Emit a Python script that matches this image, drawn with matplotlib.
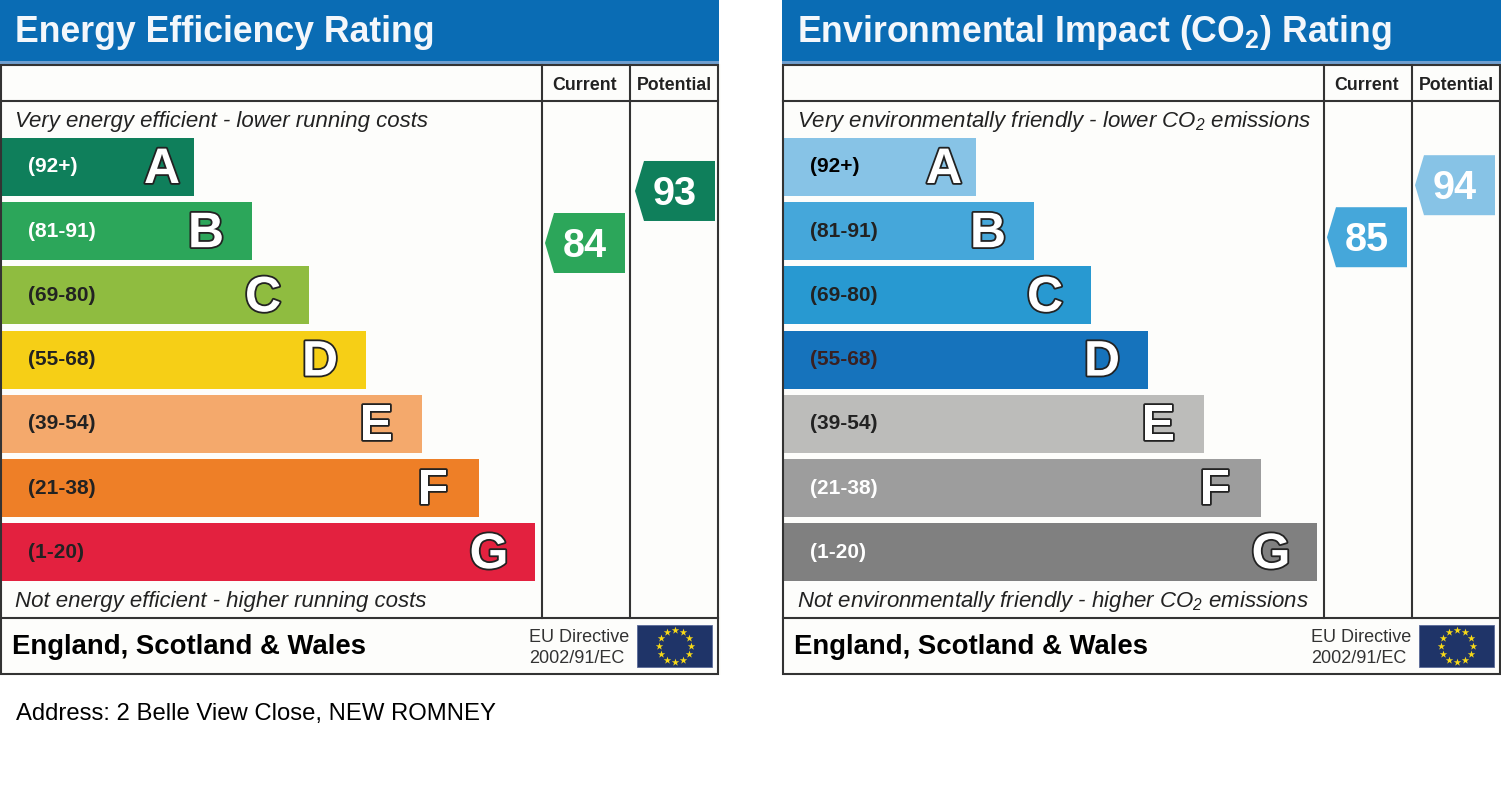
import numpy as np
import matplotlib
matplotlib.use('Agg')
import matplotlib.pyplot as plt
import matplotlib.patheffects as pe
from matplotlib.patches import Rectangle, Polygon

plt.rcParams['font.family'] = ['Liberation Sans', 'DejaVu Sans']
plt.rcParams['mathtext.default'] = 'regular'

# data
bands = ['A', 'B', 'C', 'D', 'E', 'F', 'G']
ranges = ['(92+)', '(81-91)', '(69-80)', '(55-68)', '(39-54)', '(21-38)', '(1-20)']
band_lengths = [192, 250, 307, 364, 420, 477, 533]
energy_current = 84
energy_potential = 93
co2_current = 85
co2_potential = 94
address = 'Address: 2 Belle View Close, NEW ROMNEY'

# styles
energy_colors = ['#0f7f5b', '#2ca65a', '#8fbc40', '#f6cf16', '#f4a96c', '#ee7f27', '#e3213f']
co2_colors = ['#87c3e6', '#45a7da', '#2899d1', '#1673bc', '#bcbcba', '#9d9d9d', '#808080']
energy_range_colors = ['white', 'white', '#222222', '#222222', '#222222', '#222222', '#222222']
co2_range_colors = ['black', '#222222', '#222222', '#3a2020', '#222222', 'white', 'white']
LINE = '#333333'
BLUE = '#0a6cb4'
PAPER = '#fdfdfb'


def tag_y(value):
    return 243 - (value - 84) * 5.78


def draw_tag(ax, x_right, value, color):
    y = tag_y(value)
    pts = [(x_right, y - 30), (x_right, y + 30), (x_right - 71, y + 30),
           (x_right - 80, y), (x_right - 71, y - 30)]
    ax.add_patch(Polygon(pts, closed=True, fc=color, ec='none', zorder=3))
    ax.text(x_right - 40, y + 3, str(value), color='white', fontsize=28.5, fontweight='bold',
            ha='center', va='center', zorder=4)


def draw_flag(ax, x0):
    ax.add_patch(Rectangle((x0 + 637, 625), 75, 42, fc='#1f3468', ec='#5a6a98', lw=0.6, zorder=2))
    cx, cy = x0 + 675, 646
    ang = np.arange(12) * np.pi / 6
    ax.scatter(cx + 16 * np.cos(ang), cy + 16 * np.sin(ang), marker='*', s=32, color='#f7d917',
               linewidths=0, zorder=3)


def draw_panel(ax, x0, title, top_text, bottom_text, colors, range_colors, current, potential_right, potential):
    ax.add_patch(Rectangle((x0, 0), 719, 61, fc=BLUE, ec='none'))
    ax.add_patch(Rectangle((x0, 61), 719, 3, fc='#6f9fd0', ec='none'))
    ax.add_patch(Rectangle((x0, 64), 721, 611, fc=PAPER, ec='none'))
    ax.text(x0 + 15, 33, title, color='#f4f7fb', fontsize=25.7, fontweight='bold', va='center')

    # table frame
    ax.add_patch(Rectangle((x0 + 1, 65), 717, 609, fc='none', ec=LINE, lw=1.5, zorder=5))
    ax.plot([x0 + 1, x0 + 718], [101, 101], color=LINE, lw=1.5, zorder=5)
    ax.plot([x0 + 1, x0 + 718], [618, 618], color=LINE, lw=1.5, zorder=5)
    ax.plot([x0 + 542, x0 + 542], [65, 618], color=LINE, lw=1.5, zorder=5)
    ax.plot([x0 + 630, x0 + 630], [65, 618], color=LINE, lw=1.5, zorder=5)
    ax.text(x0 + 585, 86, 'Current', color='#222222', fontsize=12.8, fontweight='bold', ha='center', va='center')
    ax.text(x0 + 674.5, 86, 'Potential', color='#222222', fontsize=12.8, fontweight='bold', ha='center', va='center')

    ax.text(x0 + 15, 121, top_text, color='#222222', fontsize=16, style='italic', va='center')
    ax.text(x0 + 15, 601, bottom_text, color='#222222', fontsize=16, style='italic', va='center')

    ys = 167 + np.arange(7) * 64.2
    ax.barh(ys, band_lengths, left=x0 + 2, height=58, color=colors, zorder=2)
    for i, (y, length) in enumerate(zip(ys, band_lengths)):
        ax.text(x0 + 28, y, ranges[i], color=range_colors[i], fontsize=15, fontweight='bold',
                va='center', zorder=3)
        inset = 32 if bands[i] == 'A' else 46
        ax.text(x0 + 2 + length - inset, y + 3, bands[i], color='white', fontsize=36, fontweight='bold',
                ha='center', va='center', zorder=4,
                path_effects=[pe.withStroke(linewidth=2.6, foreground='#222222')])

    draw_tag(ax, x0 + 625, current, colors[1])
    draw_tag(ax, x0 + potential_right, potential, colors[0])

    ax.text(x0 + 12, 647, 'England, Scotland & Wales', color='black', fontsize=19.8, fontweight='bold', va='center')
    ax.text(x0 + 529, 637, 'EU Directive', color='#333333', fontsize=13, va='center')
    ax.text(x0 + 529, 658, '2002/91/EC', color='#333333', fontsize=13, va='center')
    draw_flag(ax, x0)


fig = plt.figure(figsize=(15.01, 8.05), dpi=100, facecolor='white')
ax = fig.add_axes([0, 0, 1, 1])
ax.set_xlim(0, 1501)
ax.set_ylim(805, 0)
ax.axis('off')

draw_panel(ax, 0, 'Energy Efficiency Rating', 'Very energy efficient - lower running costs',
           'Not energy efficient - higher running costs', energy_colors, energy_range_colors,
           energy_current, 715, energy_potential)
draw_panel(ax, 782, 'Environmental Impact (CO$_2$) Rating', 'Very environmentally friendly - lower CO$_2$ emissions',
           'Not environmentally friendly - higher CO$_2$ emissions', co2_colors, co2_range_colors,
           co2_current, 713, co2_potential)

ax.text(16, 714, address, color='black', fontsize=17.2, va='center')

fig.savefig('out.png', dpi=100)
